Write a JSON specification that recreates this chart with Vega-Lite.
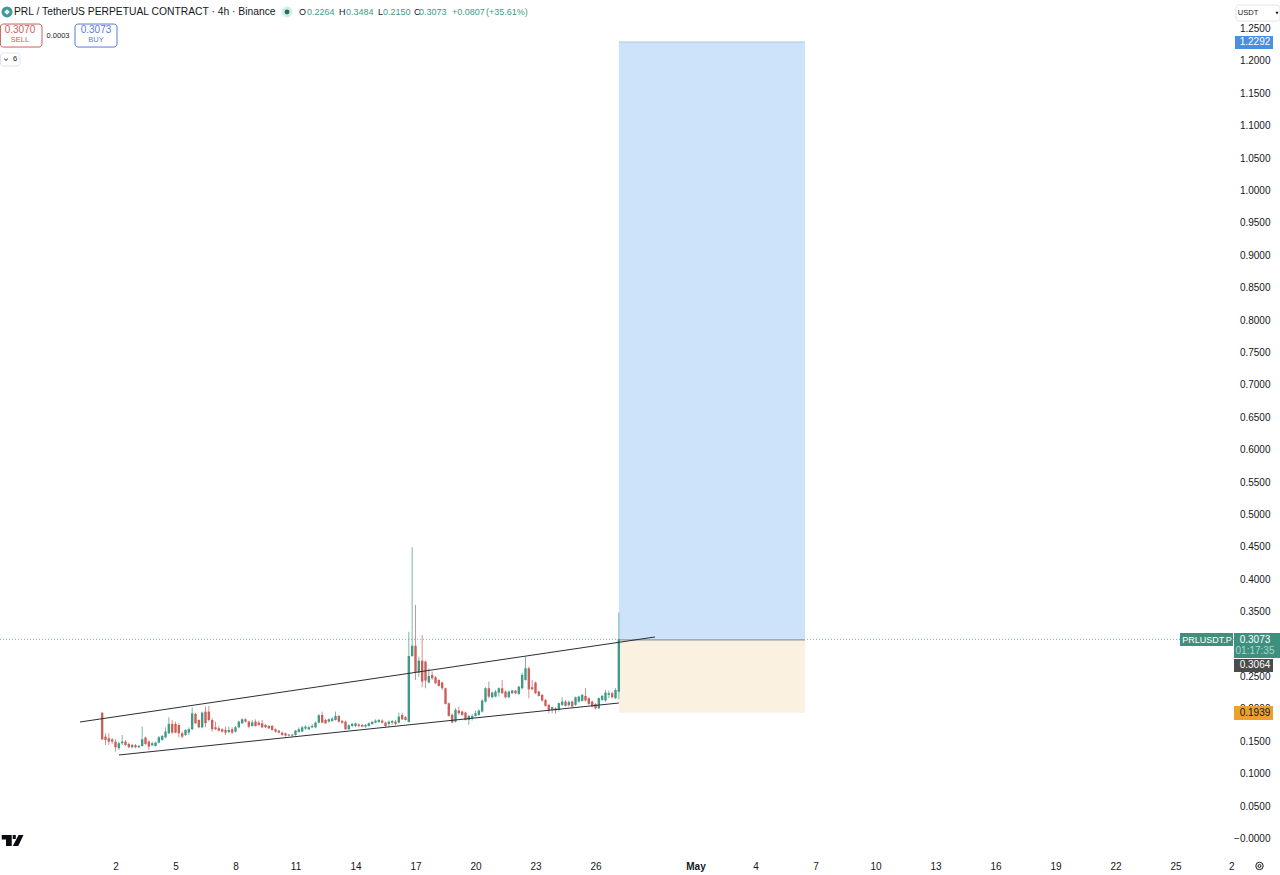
{"$schema":"https://vega.github.io/schema/vega-lite/v6.json","width":1234,"height":853,"autosize":"none","padding":{"left":0,"top":0,"right":46,"bottom":22},"background":"#ffffff","config":{"view":{"stroke":null},"axis":{"grid":false,"ticks":false,"domain":false,"title":null},"text":{"font":"Liberation Sans"}},
"datasets":{
"candles":[
{"t":"2026-04-01T08:00Z","o":0.194,"h":0.195,"l":0.152,"c":0.153},{"t":"2026-04-01T12:00Z","o":0.1572,"h":0.1624,"l":0.1444,"c":0.1521},{"t":"2026-04-01T16:00Z","o":0.1547,"h":0.1624,"l":0.1444,"c":0.1495},{"t":"2026-04-01T20:00Z","o":0.1531,"h":0.1547,"l":0.1459,"c":0.1495},
{"t":"2026-04-02T00:00Z","o":0.1495,"h":0.1531,"l":0.1341,"c":0.1408},{"t":"2026-04-02T04:00Z","o":0.1393,"h":0.1495,"l":0.1367,"c":0.147},{"t":"2026-04-02T08:00Z","o":0.147,"h":0.1598,"l":0.1444,"c":0.1495},{"t":"2026-04-02T12:00Z","o":0.1495,"h":0.1521,"l":0.1428,"c":0.1444},{"t":"2026-04-02T16:00Z","o":0.1459,"h":0.148,"l":0.1393,"c":0.1408},{"t":"2026-04-02T20:00Z","o":0.1408,"h":0.1459,"l":0.1393,"c":0.1444},
{"t":"2026-04-03T00:00Z","o":0.1439,"h":0.1459,"l":0.1393,"c":0.1408},{"t":"2026-04-03T04:00Z","o":0.1408,"h":0.1444,"l":0.1393,"c":0.1428},{"t":"2026-04-03T08:00Z","o":0.1428,"h":0.1727,"l":0.1418,"c":0.1531},{"t":"2026-04-03T12:00Z","o":0.1557,"h":0.1572,"l":0.1444,"c":0.1459},{"t":"2026-04-03T16:00Z","o":0.1495,"h":0.1521,"l":0.1367,"c":0.1418},{"t":"2026-04-03T20:00Z","o":0.1439,"h":0.1495,"l":0.1428,"c":0.147},
{"t":"2026-04-04T00:00Z","o":0.1428,"h":0.1495,"l":0.1418,"c":0.148},{"t":"2026-04-04T04:00Z","o":0.148,"h":0.1583,"l":0.147,"c":0.1562},{"t":"2026-04-04T08:00Z","o":0.1521,"h":0.1598,"l":0.1511,"c":0.1583},{"t":"2026-04-04T12:00Z","o":0.1562,"h":0.1716,"l":0.1547,"c":0.165},{"t":"2026-04-04T16:00Z","o":0.1624,"h":0.1871,"l":0.1614,"c":0.1768},{"t":"2026-04-04T20:00Z","o":0.1768,"h":0.1829,"l":0.1614,"c":0.1634},
{"t":"2026-04-05T00:00Z","o":0.1768,"h":0.1804,"l":0.1624,"c":0.1634},{"t":"2026-04-05T04:00Z","o":0.1752,"h":0.1778,"l":0.1562,"c":0.1624},{"t":"2026-04-05T08:00Z","o":0.1624,"h":0.165,"l":0.1547,"c":0.1572},{"t":"2026-04-05T12:00Z","o":0.1598,"h":0.1686,"l":0.1583,"c":0.1675},{"t":"2026-04-05T16:00Z","o":0.1634,"h":0.1716,"l":0.1598,"c":0.1686},{"t":"2026-04-05T20:00Z","o":0.1686,"h":0.2025,"l":0.1675,"c":0.1932},
{"t":"2026-04-06T00:00Z","o":0.1922,"h":0.1942,"l":0.1768,"c":0.1778},{"t":"2026-04-06T04:00Z","o":0.1829,"h":0.184,"l":0.1701,"c":0.1716},{"t":"2026-04-06T08:00Z","o":0.1716,"h":0.1958,"l":0.1701,"c":0.1942},{"t":"2026-04-06T12:00Z","o":0.1958,"h":0.2035,"l":0.1716,"c":0.1778},{"t":"2026-04-06T16:00Z","o":0.1958,"h":0.2045,"l":0.1804,"c":0.1829},{"t":"2026-04-06T20:00Z","o":0.1829,"h":0.1855,"l":0.165,"c":0.1686},
{"t":"2026-04-07T00:00Z","o":0.1716,"h":0.1804,"l":0.1675,"c":0.1686},{"t":"2026-04-07T04:00Z","o":0.1701,"h":0.1737,"l":0.165,"c":0.1665},{"t":"2026-04-07T08:00Z","o":0.1686,"h":0.1701,"l":0.1634,"c":0.165},{"t":"2026-04-07T12:00Z","o":0.1675,"h":0.1727,"l":0.1598,"c":0.1634},{"t":"2026-04-07T16:00Z","o":0.1644,"h":0.1727,"l":0.1624,"c":0.1675},{"t":"2026-04-07T20:00Z","o":0.1686,"h":0.1716,"l":0.1614,"c":0.1634},
{"t":"2026-04-08T00:00Z","o":0.165,"h":0.1737,"l":0.1634,"c":0.1716},{"t":"2026-04-08T04:00Z","o":0.1716,"h":0.1819,"l":0.1701,"c":0.1804},{"t":"2026-04-08T08:00Z","o":0.1778,"h":0.1855,"l":0.1768,"c":0.184},{"t":"2026-04-08T12:00Z","o":0.184,"h":0.1855,"l":0.1788,"c":0.1804},{"t":"2026-04-08T16:00Z","o":0.1804,"h":0.1819,"l":0.1701,"c":0.1727},{"t":"2026-04-08T20:00Z","o":0.1737,"h":0.1829,"l":0.1727,"c":0.1793},
{"t":"2026-04-09T00:00Z","o":0.1804,"h":0.184,"l":0.1727,"c":0.1737},{"t":"2026-04-09T04:00Z","o":0.1788,"h":0.1819,"l":0.1737,"c":0.1752},{"t":"2026-04-09T08:00Z","o":0.1778,"h":0.1829,"l":0.1701,"c":0.1716},{"t":"2026-04-09T12:00Z","o":0.1752,"h":0.1768,"l":0.1701,"c":0.1716},{"t":"2026-04-09T16:00Z","o":0.1737,"h":0.1752,"l":0.1686,"c":0.1701},{"t":"2026-04-09T20:00Z","o":0.1737,"h":0.1752,"l":0.1665,"c":0.1675},
{"t":"2026-04-10T00:00Z","o":0.1686,"h":0.1701,"l":0.1634,"c":0.165},{"t":"2026-04-10T04:00Z","o":0.1665,"h":0.1675,"l":0.1624,"c":0.1634},{"t":"2026-04-10T08:00Z","o":0.1634,"h":0.165,"l":0.1583,"c":0.1598},{"t":"2026-04-10T12:00Z","o":0.1624,"h":0.1634,"l":0.1572,"c":0.1588},{"t":"2026-04-10T16:00Z","o":0.1588,"h":0.1614,"l":0.1578,"c":0.1603},{"t":"2026-04-10T20:00Z","o":0.1603,"h":0.1614,"l":0.1572,"c":0.1588},
{"t":"2026-04-11T00:00Z","o":0.1598,"h":0.1675,"l":0.1588,"c":0.1665},{"t":"2026-04-11T04:00Z","o":0.1644,"h":0.1716,"l":0.1634,"c":0.1686},{"t":"2026-04-11T08:00Z","o":0.165,"h":0.1737,"l":0.1639,"c":0.1716},{"t":"2026-04-11T12:00Z","o":0.1696,"h":0.1747,"l":0.1675,"c":0.1727},{"t":"2026-04-11T16:00Z","o":0.1686,"h":0.1737,"l":0.1675,"c":0.1716},{"t":"2026-04-11T20:00Z","o":0.1716,"h":0.1768,"l":0.1701,"c":0.1737},
{"t":"2026-04-12T00:00Z","o":0.1716,"h":0.1804,"l":0.1701,"c":0.1788},{"t":"2026-04-12T04:00Z","o":0.1788,"h":0.1922,"l":0.1778,"c":0.1901},{"t":"2026-04-12T08:00Z","o":0.1907,"h":0.1958,"l":0.1778,"c":0.1788},{"t":"2026-04-12T12:00Z","o":0.1829,"h":0.185,"l":0.1768,"c":0.1778},{"t":"2026-04-12T16:00Z","o":0.1804,"h":0.1855,"l":0.1788,"c":0.184},{"t":"2026-04-12T20:00Z","o":0.1814,"h":0.1871,"l":0.1799,"c":0.185},
{"t":"2026-04-13T00:00Z","o":0.1829,"h":0.1958,"l":0.1819,"c":0.1891},{"t":"2026-04-13T04:00Z","o":0.1891,"h":0.1907,"l":0.1788,"c":0.1804},{"t":"2026-04-13T08:00Z","o":0.1814,"h":0.1829,"l":0.1768,"c":0.1788},{"t":"2026-04-13T12:00Z","o":0.1804,"h":0.1819,"l":0.1675,"c":0.1686},{"t":"2026-04-13T16:00Z","o":0.1686,"h":0.1763,"l":0.1675,"c":0.1747},{"t":"2026-04-13T20:00Z","o":0.1737,"h":0.1788,"l":0.1716,"c":0.1768},
{"t":"2026-04-14T00:00Z","o":0.1737,"h":0.1788,"l":0.1716,"c":0.1778},{"t":"2026-04-14T04:00Z","o":0.1758,"h":0.1778,"l":0.1716,"c":0.1737},{"t":"2026-04-14T08:00Z","o":0.1752,"h":0.1768,"l":0.1716,"c":0.1727},{"t":"2026-04-14T12:00Z","o":0.1727,"h":0.1768,"l":0.1711,"c":0.1752},{"t":"2026-04-14T16:00Z","o":0.1737,"h":0.1793,"l":0.1727,"c":0.1778},{"t":"2026-04-14T20:00Z","o":0.1768,"h":0.1814,"l":0.1752,"c":0.1799},
{"t":"2026-04-15T00:00Z","o":0.1788,"h":0.184,"l":0.1778,"c":0.1819},{"t":"2026-04-15T04:00Z","o":0.1799,"h":0.1845,"l":0.1788,"c":0.1829},{"t":"2026-04-15T08:00Z","o":0.1819,"h":0.184,"l":0.1778,"c":0.1788},{"t":"2026-04-15T12:00Z","o":0.1788,"h":0.1804,"l":0.1716,"c":0.1737},{"t":"2026-04-15T16:00Z","o":0.1768,"h":0.1819,"l":0.1727,"c":0.1804},{"t":"2026-04-15T20:00Z","o":0.1788,"h":0.1829,"l":0.1752,"c":0.1814},
{"t":"2026-04-16T00:00Z","o":0.1804,"h":0.1829,"l":0.1747,"c":0.1768},{"t":"2026-04-16T04:00Z","o":0.1788,"h":0.1942,"l":0.1778,"c":0.1881},{"t":"2026-04-16T08:00Z","o":0.1907,"h":0.1942,"l":0.1829,"c":0.184},{"t":"2026-04-16T12:00Z","o":0.1871,"h":0.1891,"l":0.1819,"c":0.1829},{"t":"2026-04-16T16:00Z","o":0.18,"h":0.319,"l":0.179,"c":0.2816},{"t":"2026-04-16T20:00Z","o":0.2817,"h":0.4493,"l":0.28,"c":0.2976},
{"t":"2026-04-17T00:00Z","o":0.2976,"h":0.3604,"l":0.2447,"c":0.256},{"t":"2026-04-17T04:00Z","o":0.256,"h":0.2806,"l":0.2497,"c":0.2745},{"t":"2026-04-17T08:00Z","o":0.2745,"h":0.3141,"l":0.2334,"c":0.2422},{"t":"2026-04-17T12:00Z","o":0.273,"h":0.2745,"l":0.2319,"c":0.2437},{"t":"2026-04-17T16:00Z","o":0.2406,"h":0.2627,"l":0.2396,"c":0.2509},{"t":"2026-04-17T20:00Z","o":0.2524,"h":0.2576,"l":0.2447,"c":0.2473},
{"t":"2026-04-18T00:00Z","o":0.2488,"h":0.2509,"l":0.2386,"c":0.2396},{"t":"2026-04-18T04:00Z","o":0.2447,"h":0.2457,"l":0.2344,"c":0.2355},{"t":"2026-04-18T08:00Z","o":0.2406,"h":0.2422,"l":0.2293,"c":0.2319},{"t":"2026-04-18T12:00Z","o":0.2319,"h":0.2329,"l":0.2067,"c":0.2077},{"t":"2026-04-18T16:00Z","o":0.2087,"h":0.2098,"l":0.1882,"c":0.1892},{"t":"2026-04-18T20:00Z","o":0.1908,"h":0.1933,"l":0.1779,"c":0.1789},
{"t":"2026-04-19T00:00Z","o":0.1805,"h":0.201,"l":0.1789,"c":0.1985},{"t":"2026-04-19T04:00Z","o":0.1974,"h":0.2036,"l":0.1908,"c":0.1933},{"t":"2026-04-19T08:00Z","o":0.1959,"h":0.1974,"l":0.1892,"c":0.1908},{"t":"2026-04-19T12:00Z","o":0.1943,"h":0.1959,"l":0.182,"c":0.183},{"t":"2026-04-19T16:00Z","o":0.183,"h":0.1908,"l":0.1753,"c":0.1892},{"t":"2026-04-19T20:00Z","o":0.1856,"h":0.1923,"l":0.182,"c":0.1892},
{"t":"2026-04-20T00:00Z","o":0.1892,"h":0.1974,"l":0.1882,"c":0.1933},{"t":"2026-04-20T04:00Z","o":0.1908,"h":0.1995,"l":0.1892,"c":0.1974},{"t":"2026-04-20T08:00Z","o":0.1959,"h":0.2149,"l":0.1943,"c":0.2128},{"t":"2026-04-20T12:00Z","o":0.2113,"h":0.2334,"l":0.2098,"c":0.2319},{"t":"2026-04-20T16:00Z","o":0.2319,"h":0.2422,"l":0.2165,"c":0.219},{"t":"2026-04-20T20:00Z","o":0.218,"h":0.2267,"l":0.2165,"c":0.2252},
{"t":"2026-04-21T00:00Z","o":0.219,"h":0.2293,"l":0.218,"c":0.2267},{"t":"2026-04-21T04:00Z","o":0.2252,"h":0.2334,"l":0.219,"c":0.2319},{"t":"2026-04-21T08:00Z","o":0.2319,"h":0.2447,"l":0.2231,"c":0.2242},{"t":"2026-04-21T12:00Z","o":0.2267,"h":0.2283,"l":0.2165,"c":0.218},{"t":"2026-04-21T16:00Z","o":0.218,"h":0.2283,"l":0.2165,"c":0.2267},{"t":"2026-04-21T20:00Z","o":0.2242,"h":0.2293,"l":0.2231,"c":0.2283},
{"t":"2026-04-22T00:00Z","o":0.2283,"h":0.2293,"l":0.2226,"c":0.2242},{"t":"2026-04-22T04:00Z","o":0.2231,"h":0.2355,"l":0.2216,"c":0.2344},{"t":"2026-04-22T08:00Z","o":0.2319,"h":0.256,"l":0.23,"c":0.2524},{"t":"2026-04-22T12:00Z","o":0.2447,"h":0.2807,"l":0.2437,"c":0.2627},{"t":"2026-04-22T16:00Z","o":0.2627,"h":0.2653,"l":0.2165,"c":0.2303},{"t":"2026-04-22T20:00Z","o":0.2334,"h":0.2447,"l":0.2293,"c":0.2303},
{"t":"2026-04-23T00:00Z","o":0.2406,"h":0.2422,"l":0.2231,"c":0.2242},{"t":"2026-04-23T04:00Z","o":0.2267,"h":0.2283,"l":0.219,"c":0.2201},{"t":"2026-04-23T08:00Z","o":0.2216,"h":0.2231,"l":0.2113,"c":0.2129},{"t":"2026-04-23T12:00Z","o":0.2139,"h":0.2149,"l":0.2036,"c":0.2046},{"t":"2026-04-23T16:00Z","o":0.2062,"h":0.2077,"l":0.1933,"c":0.1975},{"t":"2026-04-23T20:00Z","o":0.1985,"h":0.2036,"l":0.1933,"c":0.2026},
{"t":"2026-04-24T00:00Z","o":0.201,"h":0.2026,"l":0.1923,"c":0.1975},{"t":"2026-04-24T04:00Z","o":0.1985,"h":0.2098,"l":0.1959,"c":0.2088},{"t":"2026-04-24T08:00Z","o":0.2062,"h":0.218,"l":0.2046,"c":0.2113},{"t":"2026-04-24T12:00Z","o":0.2113,"h":0.2139,"l":0.2036,"c":0.2046},{"t":"2026-04-24T16:00Z","o":0.2057,"h":0.2129,"l":0.2036,"c":0.2108},{"t":"2026-04-24T20:00Z","o":0.2113,"h":0.2129,"l":0.2021,"c":0.2036},
{"t":"2026-04-25T00:00Z","o":0.2062,"h":0.219,"l":0.2046,"c":0.218},{"t":"2026-04-25T04:00Z","o":0.2113,"h":0.2201,"l":0.2098,"c":0.219},{"t":"2026-04-25T08:00Z","o":0.2124,"h":0.2231,"l":0.2113,"c":0.2216},{"t":"2026-04-25T12:00Z","o":0.2201,"h":0.2319,"l":0.2113,"c":0.2129},{"t":"2026-04-25T16:00Z","o":0.2165,"h":0.218,"l":0.2062,"c":0.2077},{"t":"2026-04-25T20:00Z","o":0.2113,"h":0.2129,"l":0.2026,"c":0.2036},
{"t":"2026-04-26T00:00Z","o":0.2077,"h":0.2088,"l":0.1995,"c":0.201},{"t":"2026-04-26T04:00Z","o":0.201,"h":0.218,"l":0.1995,"c":0.2165},{"t":"2026-04-26T08:00Z","o":0.2139,"h":0.2216,"l":0.2124,"c":0.2201},{"t":"2026-04-26T12:00Z","o":0.2129,"h":0.2293,"l":0.2113,"c":0.2252},{"t":"2026-04-26T16:00Z","o":0.2216,"h":0.2283,"l":0.2165,"c":0.2242},{"t":"2026-04-26T20:00Z","o":0.2242,"h":0.2267,"l":0.2165,"c":0.218},
{"t":"2026-04-27T00:00Z","o":0.2165,"h":0.2319,"l":0.2154,"c":0.2293},{"t":"2026-04-27T04:00Z","o":0.2264,"h":0.3484,"l":0.215,"c":0.3073}
],
"boxes":[
{"t":"2026-04-27T04:00Z","t2":"2026-05-06T11:24Z","p":1.2292,"p2":0.3064,"k":"target"},
{"t":"2026-04-27T04:00Z","t2":"2026-05-06T11:24Z","p":0.3064,"p2":0.1939,"k":"stop"},
{"t":"2026-05-27T22:12Z","t2":"2026-05-30T05:24Z","p":0.3171,"p2":0.2785,"k":"tagTeal"},
{"t":"2026-05-25T05:24Z","t2":"2026-05-27T21:00Z","p":0.3171,"p2":0.2971,"k":"tagTeal"},
{"t":"2026-05-27T23:24Z","t2":"2026-05-29T21:00Z","p":1.2384,"p2":1.2184,"k":"tagBlue"},
{"t":"2026-05-27T22:12Z","t2":"2026-05-29T21:00Z","p":0.277,"p2":0.2569,"k":"tagGrey"},
{"t":"2026-05-27T22:12Z","t2":"2026-05-29T21:00Z","p":0.2045,"p2":0.1829,"k":"tagOrange"}
],
"outlines":[
{"t":"2026-03-27T05:54Z","t2":"2026-03-29T07:48Z","p":1.2569,"p2":1.2214,"k":"red"},
{"t":"2026-03-30T23:24Z","t2":"2026-04-02T01:48Z","p":1.2569,"p2":1.2214,"k":"blue"},
{"t":"2026-03-27T05:54Z","t2":"2026-03-28T05:24Z","p":1.2122,"p2":1.1921,"k":"hair"},
{"t":"2026-05-28T00:36Z","t2":"2026-05-30T05:24Z","p":1.2863,"p2":1.2615,"k":"hair"}
],
"segments":[
{"t":"2026-03-31T05:24Z","p":0.1798,"t2":"2026-04-28T23:24Z","p2":0.311,"k":"trend"},
{"t":"2026-04-02T04:12Z","p":0.1289,"t2":"2026-04-27T04:00Z","p2":0.2091,"k":"trend"}
],
"levels":[
{"t":"2026-04-27T04:00Z","t2":"2026-05-06T11:24Z","p":0.3064,"k":"entry"},
{"t":"2026-04-27T04:00Z","t2":"2026-05-06T11:24Z","p":1.2292,"k":"targetEdge"}
],
"last":[{"t":"2026-03-27T05:24Z","t2":"2026-05-27T22:12Z","p":0.3073}],
"labels":[
{"g":"title","t":"2026-03-27T22:12Z","p":1.2755,"s":"PRL / TetherUS PERPETUAL CONTRACT · 4h · Binance","k":"ink"},
{"g":"ohlc","t":"2026-04-11T04:12Z","p":1.2755,"s":"O","k":"ink"},
{"g":"ohlc","t":"2026-04-11T13:48Z","p":1.2755,"s":"0.2264","k":"up"},
{"g":"ohlc","t":"2026-04-13T04:12Z","p":1.2755,"s":"H","k":"ink"},
{"g":"ohlc","t":"2026-04-13T12:36Z","p":1.2755,"s":"0.3484","k":"up"},
{"g":"ohlc","t":"2026-04-15T03:00Z","p":1.2755,"s":"L","k":"ink"},
{"g":"ohlc","t":"2026-04-15T09:00Z","p":1.2755,"s":"0.2150","k":"up"},
{"g":"ohlc","t":"2026-04-16T22:12Z","p":1.2755,"s":"C","k":"ink"},
{"g":"ohlc","t":"2026-04-17T04:12Z","p":1.2755,"s":"0.3073","k":"up"},
{"g":"ohlc","t":"2026-04-18T19:48Z","p":1.2755,"s":"+0.0807","k":"up"},
{"g":"ohlc","t":"2026-04-20T12:36Z","p":1.2755,"s":"(+35.61%)","k":"up"},
{"g":"quote","t":"2026-03-28T05:24Z","p":1.2477,"s":"0.3070","k":"red"},
{"g":"quote","t":"2026-04-01T00:36Z","p":1.2477,"s":"0.3073","k":"blue"},
{"g":"tiny","t":"2026-03-28T05:24Z","p":1.2323,"s":"SELL","k":"red"},
{"g":"tiny","t":"2026-04-01T00:36Z","p":1.2323,"s":"BUY","k":"blue"},
{"g":"tiny","t":"2026-03-30T03:00Z","p":1.2392,"s":"0.0003","k":"ink"},
{"g":"tiny","t":"2026-03-27T23:24Z","p":1.2022,"s":"6","k":"ink"},
{"g":"tiny","t":"2026-05-28T15:00Z","p":1.2739,"s":"USDT","k":"ink"},
{"g":"tag","t":"2026-05-28T23:24Z","p":1.2292,"s":"1.2292","k":"white"},
{"g":"tag","t":"2026-05-28T23:24Z","p":0.3071,"s":"0.3073","k":"white"},
{"g":"tag","t":"2026-05-28T23:24Z","p":0.2894,"s":"01:17:35","k":"mint"},
{"g":"tag","t":"2026-05-28T23:24Z","p":0.267,"s":"0.3064","k":"white"},
{"g":"tag","t":"2026-05-28T23:24Z","p":0.1939,"s":"0.1939","k":"ink"},
{"g":"sym","t":"2026-05-26T13:48Z","p":0.3071,"s":"PRLUSDT.P","k":"white"}
],
"glyphs":[
{"g":"logo","t":"2026-03-27T13:48Z","p":1.2755},
{"g":"halo","t":"2026-04-10T13:48Z","p":1.2755},
{"g":"dot","t":"2026-04-10T13:48Z","p":1.2755},
{"g":"gem","t":"2026-03-27T13:48Z","p":1.2755},
{"g":"tv","t":"2026-03-27T20:24Z","p":-0.0031},
{"g":"caret","t":"2026-05-30T01:48Z","p":1.2739},
{"g":"chev","t":"2026-03-27T12:36Z","p":1.2022},
{"g":"gear","t":"2026-05-29T04:48Z","p":-0.0424},
{"g":"gearDot","t":"2026-05-29T04:48Z","p":-0.0424}
]
},
"layer":[
{"data":{"name":"last"},"mark":{"type":"rule","color":"#7fb8aa","strokeWidth":1,"strokeDash":[1,2]},
"encoding":{"x":{"field":"t","type":"temporal","scale":{"type":"utc","padding":0,"domain":["2026-03-27T05:24Z","2026-05-27T22:12Z"]},
"axis":{"values":["2026-04-02T00:00Z","2026-04-05T00:00Z","2026-04-08T00:00Z","2026-04-11T00:00Z","2026-04-14T00:00Z","2026-04-17T00:00Z","2026-04-20T00:00Z","2026-04-23T00:00Z","2026-04-26T00:00Z","2026-05-01T00:00Z","2026-05-04T00:00Z","2026-05-07T00:00Z","2026-05-10T00:00Z","2026-05-13T00:00Z","2026-05-16T00:00Z","2026-05-19T00:00Z","2026-05-22T00:00Z","2026-05-25T00:00Z","2026-05-27T19:00Z"],
"labelExpr":"utcdate(datum.value)==1 ? 'May' : utcdate(datum.value)==27 ? '2' : ''+utcdate(datum.value)","labelFont":"Liberation Sans","labelFontSize":10,"labelColor":"#131722","labelPadding":8,"labelOverlap":false,"labelFlush":false,"tickCount":30,"labelFontWeight":{"condition":{"test":"utcdate(datum.value)==1","value":"bold"},"value":"normal"}}},
"x2":{"field":"t2"},
"y":{"field":"p","type":"quantitative","scale":{"domain":[-0.02238,1.294],"nice":false,"zero":false,"padding":0},
"axis":{"orient":"right","tickCount":30,"values":[0,0.05,0.1,0.15,0.2,0.25,0.3,0.35,0.4,0.45,0.5,0.55,0.6,0.65,0.7,0.75,0.8,0.85,0.9,0.95,1,1.05,1.1,1.15,1.2,1.25],"labelExpr":"datum.value==0 ? '−0.0000' : format(datum.value,'.4f')","labelFont":"Liberation Sans","labelFontSize":10,"labelColor":"#131722","labelAlign":"right","labelPadding":36,"labelOverlap":false,"labelFlush":false}}}},
{"data":{"name":"boxes"},"mark":{"type":"rect"},"encoding":{"x":{"field":"t","type":"temporal"},"x2":{"field":"t2"},"y":{"field":"p","type":"quantitative"},"y2":{"field":"p2"},
"color":{"field":"k","type":"nominal","legend":null,"scale":{"domain":["target","stop","tagTeal","tagBlue","tagGrey","tagOrange","red","blue","hair","ink","up","white","mint","trend","entry","targetEdge"],"range":["#cde3f9","#faf1e1","#3f8f7e","#4a8fe3","#4b4b4b","#eea02e","#c9605a","#5b7bd5","#e0e3eb","#131722","#3f9a86","#ffffff","#a8d8cc","#2a2e39","#8f9a9c","#a8cfd8"]}}}},
{"data":{"name":"outlines"},"mark":{"type":"rect","filled":false,"strokeWidth":1,"cornerRadius":3},"encoding":{"x":{"field":"t","type":"temporal"},"x2":{"field":"t2"},"y":{"field":"p","type":"quantitative"},"y2":{"field":"p2"},"color":{"field":"k","type":"nominal","legend":null}}},
{"data":{"name":"levels"},"mark":{"type":"rule","strokeWidth":1.2},"encoding":{"x":{"field":"t","type":"temporal"},"x2":{"field":"t2"},"y":{"field":"p","type":"quantitative"},"color":{"field":"k","type":"nominal","legend":null}}},
{"data":{"name":"candles"},"mark":{"type":"rule","strokeWidth":1,"opacity":0.7},"encoding":{"x":{"field":"t","type":"temporal"},"y":{"field":"l","type":"quantitative"},"y2":{"field":"h"},"color":{"condition":{"test":"datum.c>=datum.o","value":"#3f9a86"},"value":"#c9605a"}}},
{"data":{"name":"candles"},"mark":{"type":"bar","width":2.4},"encoding":{"x":{"field":"t","type":"temporal"},"y":{"field":"o","type":"quantitative"},"y2":{"field":"c"},"color":{"condition":{"test":"datum.c>=datum.o","value":"#3f9a86"},"value":"#c9605a"}}},
{"data":{"name":"segments"},"mark":{"type":"rule","strokeWidth":1},"encoding":{"x":{"field":"t","type":"temporal"},"x2":{"field":"t2"},"y":{"field":"p","type":"quantitative"},"y2":{"field":"p2"},"color":{"field":"k","type":"nominal","legend":null}}},
{"data":{"name":"labels"},"transform":[{"filter":"datum.g=='title'"}],"mark":{"type":"text","align":"left","baseline":"middle","fontSize":10.3},"encoding":{"x":{"field":"t","type":"temporal"},"y":{"field":"p","type":"quantitative"},"text":{"field":"s"},"color":{"field":"k","type":"nominal","legend":null}}},
{"data":{"name":"labels"},"transform":[{"filter":"datum.g=='ohlc'"}],"mark":{"type":"text","align":"left","baseline":"middle","fontSize":9},"encoding":{"x":{"field":"t","type":"temporal"},"y":{"field":"p","type":"quantitative"},"text":{"field":"s"},"color":{"field":"k","type":"nominal","legend":null}}},
{"data":{"name":"labels"},"transform":[{"filter":"datum.g=='quote'||datum.g=='tag'"}],"mark":{"type":"text","align":"center","baseline":"middle","fontSize":10},"encoding":{"x":{"field":"t","type":"temporal"},"y":{"field":"p","type":"quantitative"},"text":{"field":"s"},"color":{"field":"k","type":"nominal","legend":null}}},
{"data":{"name":"labels"},"transform":[{"filter":"datum.g=='tiny'"}],"mark":{"type":"text","align":"center","baseline":"middle","fontSize":7.5},"encoding":{"x":{"field":"t","type":"temporal"},"y":{"field":"p","type":"quantitative"},"text":{"field":"s"},"color":{"field":"k","type":"nominal","legend":null}}},
{"data":{"name":"labels"},"transform":[{"filter":"datum.g=='sym'"}],"mark":{"type":"text","align":"center","baseline":"middle","fontSize":9},"encoding":{"x":{"field":"t","type":"temporal"},"y":{"field":"p","type":"quantitative"},"text":{"field":"s"},"color":{"field":"k","type":"nominal","legend":null}}},
{"data":{"name":"glyphs"},"transform":[{"filter":"datum.g=='logo'"}],"mark":{"type":"point","filled":true,"shape":"circle","size":120,"color":"#3f9a96","opacity":1},"encoding":{"x":{"field":"t","type":"temporal"},"y":{"field":"p","type":"quantitative"}}},
{"data":{"name":"glyphs"},"transform":[{"filter":"datum.g=='gem'"}],"mark":{"type":"point","filled":true,"shape":"diamond","size":32,"color":"#e8f5f3","opacity":1},"encoding":{"x":{"field":"t","type":"temporal"},"y":{"field":"p","type":"quantitative"}}},
{"data":{"name":"glyphs"},"transform":[{"filter":"datum.g=='halo'"}],"mark":{"type":"point","filled":true,"shape":"circle","size":120,"color":"#d5ece6","opacity":1},"encoding":{"x":{"field":"t","type":"temporal"},"y":{"field":"p","type":"quantitative"}}},
{"data":{"name":"glyphs"},"transform":[{"filter":"datum.g=='dot'"}],"mark":{"type":"point","filled":true,"shape":"circle","size":24,"color":"#1f6f5c","opacity":1},"encoding":{"x":{"field":"t","type":"temporal"},"y":{"field":"p","type":"quantitative"}}},
{"data":{"name":"glyphs"},"transform":[{"filter":"datum.g=='tv'"}],"mark":{"type":"point","filled":true,"size":484,"color":"#0b0d12","opacity":1,"shape":"M-.98,-.5L-.07,-.5L-.07,.5L-.59,.5L-.59,-.09L-.98,-.09ZM.02,-.5L.3,-.5L.3,-.14L.02,-.14ZM.55,-.5L1,-.5L.52,.5L.03,.5Z"},"encoding":{"x":{"field":"t","type":"temporal"},"y":{"field":"p","type":"quantitative"}}},
{"data":{"name":"glyphs"},"transform":[{"filter":"datum.g=='caret'"}],"mark":{"type":"point","filled":true,"shape":"triangle-down","size":10,"color":"#131722","opacity":1},"encoding":{"x":{"field":"t","type":"temporal"},"y":{"field":"p","type":"quantitative"}}},
{"data":{"name":"glyphs"},"transform":[{"filter":"datum.g=='chev'"}],"mark":{"type":"point","filled":false,"size":25,"strokeWidth":1,"color":"#131722","opacity":1,"shape":"M-.7,-.3L0,.35L.7,-.3"},"encoding":{"x":{"field":"t","type":"temporal"},"y":{"field":"p","type":"quantitative"}}},
{"data":{"name":"glyphs"},"transform":[{"filter":"datum.g=='gear'"}],"mark":{"type":"point","filled":false,"shape":"circle","size":55,"strokeWidth":1,"color":"#131722","opacity":1},"encoding":{"x":{"field":"t","type":"temporal"},"y":{"field":"p","type":"quantitative"}}},
{"data":{"name":"glyphs"},"transform":[{"filter":"datum.g=='gearDot'"}],"mark":{"type":"point","filled":false,"shape":"circle","size":9,"strokeWidth":1,"color":"#131722","opacity":1},"encoding":{"x":{"field":"t","type":"temporal"},"y":{"field":"p","type":"quantitative"}}}
]}
